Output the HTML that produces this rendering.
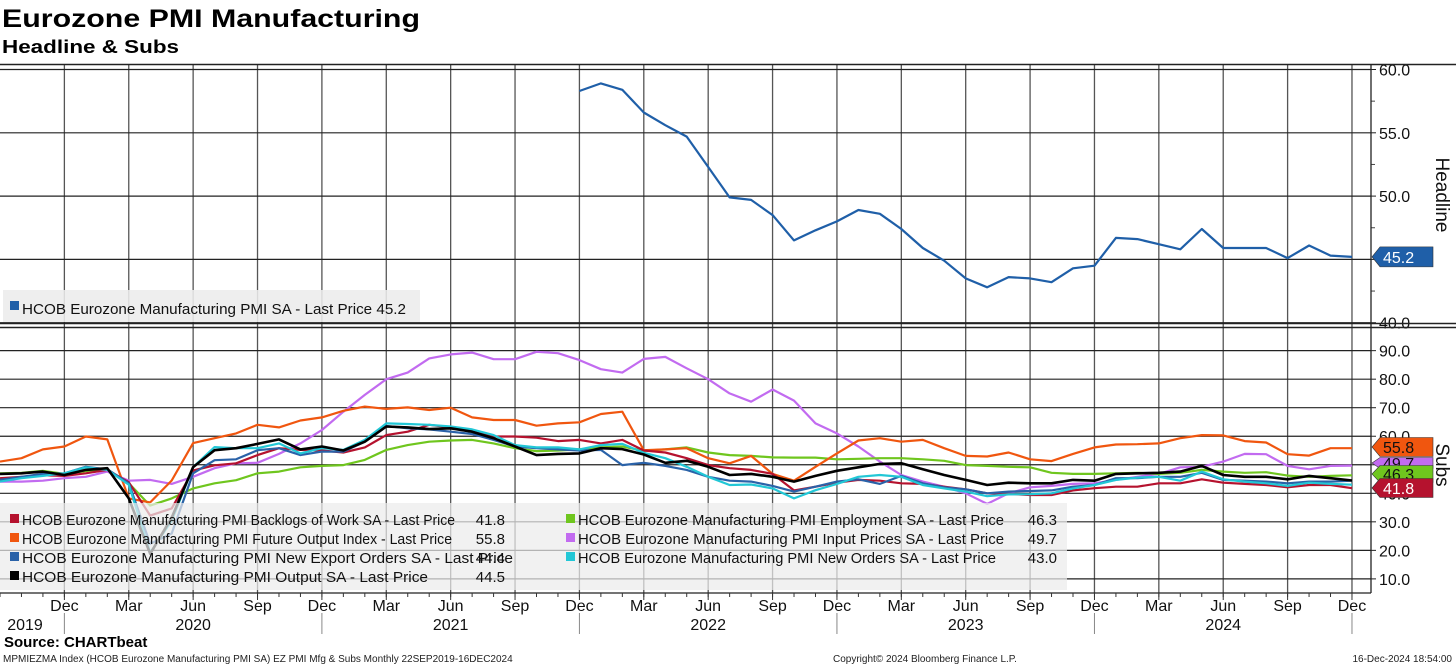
<!DOCTYPE html>
<html><head><meta charset="utf-8">
<style>
html,body{margin:0;padding:0;background:#fff;}
svg{display:block;font-family:"Liberation Sans","DejaVu Sans",sans-serif;}
</style></head>
<body>
<svg id="chart" width="1456" height="666" viewBox="0 0 1456 666" xmlns="http://www.w3.org/2000/svg">
<text x="2" y="27" font-size="25" font-weight="bold" fill="#000" textLength="418" lengthAdjust="spacingAndGlyphs">Eurozone PMI Manufacturing</text>
<text x="2" y="53" font-size="18" font-weight="bold" fill="#000" textLength="177" lengthAdjust="spacingAndGlyphs">Headline &amp; Subs</text>
<g id="grid"></g>
<g id="top-legend">
<rect x="3" y="290" width="417" height="32" fill="#ececec" fill-opacity="0.88"/>
<rect x="10" y="301" width="9" height="9" fill="#1f5fa8"/>
<text x="22" y="314" font-size="15" fill="#111" textLength="384" lengthAdjust="spacingAndGlyphs">HCOB Eurozone Manufacturing PMI SA - Last Price 45.2</text>
</g>
<g id="lines"></g>
<g id="bottom-legend">
<rect x="0" y="503" width="1067" height="87" fill="#ececec" fill-opacity="0.72"/>
</g>
<g id="axes"></g>
<text x="4" y="647" font-size="15" font-weight="bold" fill="#000">Source: CHARTbeat</text>
<text x="3" y="662" font-size="10" fill="#222">MPMIEZMA Index (HCOB Eurozone Manufacturing PMI SA) EZ PMI Mfg &amp; Subs  Monthly 22SEP2019-16DEC2024</text>
<text x="833" y="662" font-size="10" fill="#222">Copyright© 2024 Bloomberg Finance L.P.</text>
<text x="1452" y="662" font-size="10" fill="#222" text-anchor="end">16-Dec-2024 18:54:00</text>
</svg>
<script>
// months Sep-2019 .. Dec-2024 (64 points)
const monthLabels = ["Dec","Mar","Jun","Sep"];
const yearLabels = ["2019","2020","2021","2022","2023","2024"];
const headlineTicks = [40,45,50,55,60];
const subsTicks = [10,20,30,40,50,60,70,80,90];
// headline starts at Dec 2021 (index 27)
const headlineStart = 27;
const headline = [58.3,58.9,58.4,56.6,55.6,54.7,52.3,49.9,49.7,48.5,46.5,47.3,48.0,48.9,48.6,47.4,45.9,44.9,43.5,42.8,43.6,43.5,43.2,44.3,44.5,46.7,46.6,46.2,45.8,47.4,45.9,45.9,45.9,45.1,46.1,45.3,45.2];
const backlogs = [45.3,45.8,46.3,46.1,47.0,48.2,43.9,32.2,34.7,48.0,49.8,50.5,53.4,55.8,55.2,55.0,54.3,56.1,60.4,61.6,64.0,63.1,62.2,59.9,59.9,59.5,58.3,58.7,57.5,58.7,55.0,54.3,52.3,49.9,48.8,48.2,46.8,41.0,42.3,43.7,44.7,44.4,43.5,43.3,42.3,41.4,40.0,39.8,39.4,39.4,41.0,41.8,42.3,42.3,43.5,43.5,44.9,43.7,43.3,42.9,42.1,42.9,42.9,41.8];
const futureOutput = [51.1,52.3,55.4,56.4,59.9,58.9,38.2,36.8,44.5,57.6,59.3,61.0,64.0,63.1,65.5,66.6,68.9,70.4,69.6,70.1,69.2,70.0,66.6,65.7,65.7,63.7,64.5,64.9,67.8,68.6,55.1,55.4,55.8,52.3,50.5,53.1,46.8,44.4,49.3,54.0,58.5,59.3,58.1,58.7,55.8,53.1,52.9,54.3,51.9,51.3,53.8,56.1,57.1,57.2,57.5,59.3,60.4,60.3,58.3,57.8,53.7,53.2,55.8,55.8];
const exportOrders = [44.7,45.8,46.8,47.0,49.3,48.4,43.5,22.3,25.9,47.0,51.6,51.9,55.1,55.8,53.4,54.6,54.6,58.1,63.6,62.8,62.4,61.6,60.8,58.7,56.4,55.8,55.4,55.0,55.2,49.9,50.7,49.6,48.2,45.8,44.4,44.1,42.6,40.6,42.3,44.1,44.9,43.3,46.1,43.5,42.1,41.4,40.0,40.6,40.8,41.0,42.3,42.9,45.3,45.3,45.8,45.8,47.2,44.7,44.4,44.1,43.5,44.1,44.1,44.4];
const output = [46.8,47.0,47.6,46.4,48.2,48.8,38.2,18.8,31.5,49.2,55.1,55.8,57.3,58.9,55.4,56.4,55.0,58.1,63.4,63.1,62.5,62.8,61.6,59.3,56.4,53.4,53.8,54.0,55.8,55.5,53.6,50.7,51.4,49.3,46.4,46.8,45.8,44.1,46.1,47.9,49.1,50.3,50.5,48.4,46.4,44.7,42.9,43.7,43.5,43.5,44.7,44.4,46.8,47.0,47.2,47.6,49.6,46.4,45.8,45.8,44.9,46.1,45.3,44.5];
const employment = [47.0,47.2,47.9,46.8,47.8,48.4,43.5,35.7,38.2,41.7,43.5,44.6,47.0,47.6,49.1,49.6,49.9,51.7,55.2,56.9,58.1,58.5,58.7,57.5,55.8,54.8,55.0,55.4,56.1,56.4,54.9,55.4,56.1,54.3,53.4,53.1,52.6,52.5,52.5,51.9,52.1,52.3,52.3,51.9,51.4,49.9,49.6,49.3,49.1,47.2,46.8,46.8,47.0,47.2,46.8,47.2,48.2,47.6,47.2,47.4,46.2,45.8,46.1,46.3];
const inputPrices = [44.1,44.1,44.4,45.3,45.8,47.6,44.4,44.7,43.3,45.8,48.8,50.5,50.7,53.8,57.5,62.2,68.6,74.5,80.0,82.3,87.3,88.7,89.3,87.0,87.0,89.6,89.1,86.7,83.5,82.3,87.1,87.8,83.8,80.0,75.0,72.1,76.4,72.5,64.5,61.0,56.4,51.1,46.4,44.1,42.3,40.0,36.3,40.0,42.1,42.6,43.3,43.5,44.7,45.8,46.8,49.1,49.3,51.1,53.8,53.7,49.6,48.4,49.6,49.7];
const newOrders = [44.1,45.3,46.1,47.0,49.1,48.2,43.0,19.2,30.4,49.2,56.2,55.8,55.8,57.5,54.0,55.8,55.2,58.7,64.5,64.3,64.0,63.4,62.4,60.4,56.9,56.1,56.1,55.4,56.9,57.3,54.2,52.3,49.3,45.8,42.9,43.1,41.7,38.2,41.1,43.3,45.8,46.4,45.8,42.9,41.7,40.6,39.0,39.6,39.7,40.0,41.7,42.9,44.7,45.5,45.8,44.4,47.6,44.9,44.1,43.5,42.6,43.7,43.3,43.0];

const NS="http://www.w3.org/2000/svg";
function el(tag, attrs, parent){const e=document.createElementNS(NS,tag);for(const k in attrs)e.setAttribute(k,attrs[k]);parent.appendChild(e);return e;}
const xOf = i => i*21.46;
const yTop = v => 322.7-(v-40)*12.66;
const yBot = v => 493.3-(v-40)*2.853;
const AX = 1371;
const grid=document.getElementById('grid'), lines=document.getElementById('lines'), axes=document.getElementById('axes'), leg=document.getElementById('bottom-legend');

for(let i=3;i<64;i+=3){
  const g=el('line',{x1:xOf(i),x2:xOf(i),y1:64,y2:593,stroke:'#555','stroke-width':1.3},grid);
  
  
}
headlineTicks.forEach(v=>{
  const g=el('line',{x1:0,x2:AX,y1:yTop(v),y2:yTop(v),stroke:'#222','stroke-width':1.2},grid);
  
  
  const t=el('text',{x:AX+8,y:yTop(v)+6,'font-size':16,fill:'#111'},axes);
  t.textContent=v.toFixed(1);
  
  
  el('line',{x1:AX,x2:AX+5,y1:yTop(v),y2:yTop(v),stroke:'#222'},axes);
});
for(let v=42.5;v<60;v+=5){el('line',{x1:AX,x2:AX+4,y1:yTop(v),y2:yTop(v),stroke:'#444'},axes);}
subsTicks.forEach(v=>{
  const g=el('line',{x1:0,x2:AX,y1:yBot(v),y2:yBot(v),stroke:'#222','stroke-width':1.2},grid);
  
  
  const t=el('text',{x:AX+8,y:yBot(v)+6,'font-size':16,fill:'#111'},axes);
  t.textContent=v.toFixed(1);
  
  
  el('line',{x1:AX,x2:AX+5,y1:yBot(v),y2:yBot(v),stroke:'#222'},axes);
});
el('line',{x1:0,x2:1456,y1:64.5,y2:64.5,stroke:'#222','stroke-width':1.5},axes);
el('line',{x1:0,x2:1456,y1:323.5,y2:323.5,stroke:'#222','stroke-width':1.5},axes);
el('line',{x1:0,x2:1456,y1:327.5,y2:327.5,stroke:'#222','stroke-width':1.5},axes);
el('line',{x1:AX,x2:AX,y1:64,y2:593,stroke:'#222','stroke-width':1.3},axes);
el('line',{x1:0,x2:AX,y1:593,y2:593,stroke:'#222','stroke-width':1.3},axes);
const h=el('text',{x:1436,y:195,'font-size':19,fill:'#111',transform:'rotate(90 1436 195)','text-anchor':'middle'},axes);
h.textContent='Headline';


const s=el('text',{x:1436,y:465,'font-size':19,fill:'#111',transform:'rotate(90 1436 465)','text-anchor':'middle'},axes);
s.textContent='Subs';


for(let i=0;i<64;i++){el('line',{x1:xOf(i),x2:xOf(i),y1:593,y2:597,stroke:'#333'},axes);}
for(let i=3,k=0;i<64;i+=3,k++){
  el('line',{x1:xOf(i),x2:xOf(i),y1:593,y2:600,stroke:'#333'},axes);
  const t=el('text',{x:xOf(i),y:611,'font-size':16,fill:'#111','text-anchor':'middle'},axes);
  t.textContent=monthLabels[k%4];
  
  
  if(k%4===0){el('line',{x1:xOf(i),x2:xOf(i),y1:613,y2:634,stroke:'#888'},axes);}
}
const yearX=[25,xOf(9),xOf(21),xOf(33),xOf(45),xOf(57)];
yearLabels.forEach((y,k)=>{
  const t=el('text',{x:yearX[k],y:630,'font-size':16,fill:'#111','text-anchor':'middle'},axes);
  t.textContent=y;
  
  
});

function drawLine(data,start,yf,color,name,w){
  const pts=data.map((v,i)=>xOf(i+start).toFixed(1)+','+yf(v).toFixed(1)).join(' ');
  const p=el('polyline',{points:pts,fill:'none',stroke:color,'stroke-width':w||2.2,'stroke-linejoin':'round'},lines);
  
  
}
drawLine(headline,headlineStart,yTop,'#1f5fa8','headline-pmi-line',2.2);
drawLine(inputPrices,0,yBot,'#c26bf0','input-prices-line');
drawLine(employment,0,yBot,'#6fc61e','employment-line');
drawLine(futureOutput,0,yBot,'#f0560f','future-output-line');
drawLine(backlogs,0,yBot,'#b5122e','backlogs-line');
drawLine(exportOrders,0,yBot,'#2a62a8','new-export-orders-line');
drawLine(newOrders,0,yBot,'#22c7d6','new-orders-line');
drawLine(output,0,yBot,'#000','output-line',2.6);

function tag(y,h,txt,bg,fg,name){
  const g=el('g',{},axes);
  
  
  el('polygon',{points:`${AX+1},${y} ${AX+9},${y-h/2} ${AX+62},${y-h/2} ${AX+62},${y+h/2} ${AX+9},${y+h/2}`,fill:bg,stroke:'#333','stroke-width':0.6},g);
  const t=el('text',{x:AX+12,y:y+6,'font-size':16,fill:fg},g);
  t.textContent=txt;
}
tag(yTop(45.2),20,'45.2','#1f5fa8','#fff','headline-last-tag');
tag(447,19,'55.8','#f0560f','#111','future-output-tag');
tag(463,11,'49.7','#c26bf0','#111','input-prices-tag');
tag(474,17,'46.3','#6fc61e','#111','employment-tag');
tag(488,19,'41.8','#b5122e','#fff','backlogs-tag');

const legendNames=["HCOB Eurozone Manufacturing PMI Backlogs of Work SA - Last Price","HCOB Eurozone Manufacturing PMI Future Output Index - Last Price","HCOB Eurozone Manufacturing PMI New Export Orders SA - Last Price","HCOB Eurozone Manufacturing PMI Output SA - Last Price","HCOB Eurozone Manufacturing PMI Employment SA - Last Price","HCOB Eurozone Manufacturing PMI Input Prices SA - Last Price","HCOB Eurozone Manufacturing PMI New Orders SA - Last Price"];
const legendVals=["41.8","55.8","44.4","44.5","46.3","49.7","43.0"];
const legendColors=['#b5122e','#f0560f','#2a62a8','#000','#6fc61e','#c26bf0','#22c7d6'];
const legendLens=[433,430,491,406,426,426,418];
legendNames.forEach((n,k)=>{
  const col=k<4?0:1, row=k<4?k:k-4;
  const x0=col?566:10, y0=525+row*19;
  const g=el('g',{},leg);
  
  
  el('rect',{x:x0,y:y0-11,width:9,height:9,fill:legendColors[k]},g);
  const t=el('text',{x:x0+12,y:y0,'font-size':15,fill:'#111',textLength:legendLens[k],lengthAdjust:'spacingAndGlyphs'},g);
  t.textContent=n;
  const v=el('text',{x:col?1057:505,y:y0,'font-size':15,fill:'#111','text-anchor':'end'},g);
  v.textContent=legendVals[k];
});
</script>
</body></html>
